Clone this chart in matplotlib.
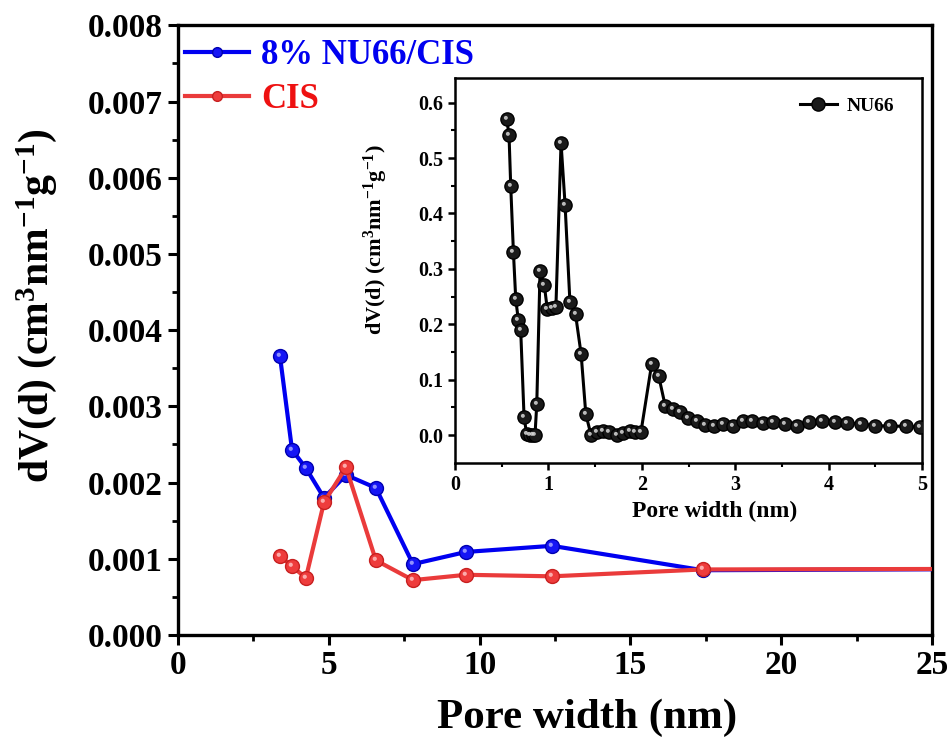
import matplotlib
matplotlib.use('Agg')
import matplotlib.pyplot as plt
from matplotlib.path import Path

plt.rcParams['font.family'] = ['Liberation Serif', 'DejaVu Serif']
plt.rcParams['font.weight'] = 'bold'
plt.rcParams['mathtext.fontset'] = 'custom'
plt.rcParams['mathtext.rm'] = 'Liberation Serif:bold'
plt.rcParams['mathtext.it'] = 'Liberation Serif:bold'
plt.rcParams['mathtext.bf'] = 'Liberation Serif:bold'

# main panel data
pore_main = [3.38, 3.78, 4.24, 4.84, 5.57, 6.56, 7.79, 9.55, 12.4, 17.4, 30.0]
dv_composite = [3.66e-3, 2.43e-3, 2.19e-3, 1.80e-3, 2.10e-3, 1.93e-3, 0.93e-3,
                1.09e-3, 1.17e-3, 0.85e-3, 0.87e-3]
dv_cis = [1.04e-3, 0.90e-3, 0.75e-3, 1.74e-3, 2.20e-3, 0.98e-3, 0.72e-3,
          0.79e-3, 0.77e-3, 0.86e-3, 0.87e-3]

# inset data (NU66)
pore_nu66 = [0.553, 0.578, 0.596, 0.625, 0.65, 0.678, 0.703, 0.739, 0.767, 0.80,
             0.83, 0.856, 0.875, 0.91, 0.956, 0.988, 1.035, 1.08, 1.135, 1.178,
             1.23, 1.29, 1.35, 1.40, 1.456, 1.517, 1.58, 1.65, 1.73, 1.80, 1.87,
             1.93, 1.99, 2.105, 2.18, 2.25, 2.33, 2.41, 2.49, 2.59, 2.68, 2.77,
             2.87, 2.98, 3.08, 3.18, 3.30, 3.40, 3.53, 3.66, 3.79, 3.93, 4.07,
             4.20, 4.35, 4.50, 4.66, 4.83, 4.98, 5.15]
dv_nu66 = [0.571, 0.541, 0.450, 0.330, 0.245, 0.207, 0.189, 0.032, 0.002, 0.0,
           0.0, 0.0, 0.056, 0.296, 0.270, 0.227, 0.230, 0.232, 0.527, 0.416,
           0.240, 0.218, 0.146, 0.038, 0.0, 0.005, 0.008, 0.006, 0.0, 0.003,
           0.007, 0.006, 0.005, 0.128, 0.107, 0.053, 0.047, 0.041, 0.031, 0.026,
           0.018, 0.016, 0.020, 0.016, 0.026, 0.026, 0.022, 0.023, 0.020, 0.016,
           0.023, 0.026, 0.024, 0.022, 0.020, 0.017, 0.016, 0.016, 0.014, 0.014]

# small off-centre dot used as the "shine" on the spherical markers
shine = Path.make_compound_path(
    Path([(-1, -1)], [Path.MOVETO]),
    Path([(1, 1)], [Path.MOVETO]),
    Path.circle((-0.25, 0.25), 0.3),
)


def sphere_plot(ax, x, y, color, face, edge, light, lw, ms, label, z):
    ax.plot(x, y, color=color, lw=lw, marker='o', ms=ms, mfc=face, mec=edge,
            mew=1, label=label, zorder=z)
    ax.plot(x, y, ls='none', marker=shine, ms=ms, mfc=light, mec='none',
            alpha=0.85, zorder=z + 0.1)


fig = plt.figure(figsize=(9.52, 7.44), dpi=100)
ax = fig.add_axes([0.187, 0.1465, 0.792, 0.8195])

sphere_plot(ax, pore_main, dv_composite, '#0000f0', '#1515f5', '#0000b0',
            '#a8a8ff', 3, 10, '8% NU66/CIS', 3)
sphere_plot(ax, pore_main, dv_cis, '#ea3b3b', '#ee3c3c', '#c82020',
            '#ffc0c0', 3, 10, 'CIS', 4)

ax.set_xlim(0, 25)
ax.set_ylim(0, 0.008)
ax.set_xticks([0, 5, 10, 15, 20, 25])
ax.set_xticks([2.5, 7.5, 12.5, 17.5, 22.5], minor=True)
ax.set_yticks([i * 0.001 for i in range(9)])
ax.set_yticks([0.0005 + i * 0.001 for i in range(8)], minor=True)
ax.set_yticklabels([f'{i * 0.001:.3f}' for i in range(9)])
ax.tick_params(which='major', direction='out', length=7, width=2.2, labelsize=24, pad=4)
ax.tick_params(which='minor', direction='out', length=4.5, width=2)
for s in ax.spines.values():
    s.set_linewidth(2.4)
ax.set_xlabel('Pore width (nm)', fontsize=31, fontweight='bold')
ax.xaxis.set_label_coords(0.542, -0.105)
ax.set_ylabel('dV(d) (cm$^{3}$nm$^{-1}$g$^{-1}$)', fontsize=30, fontweight='bold')
ax.yaxis.set_label_coords(-0.158, 0.54)

leg = ax.legend(loc='upper left', bbox_to_anchor=(0.009, 0.978), frameon=False,
                fontsize=25, handlelength=1.85, borderpad=0, borderaxespad=0,
                handletextpad=0.35, labelspacing=0.32, markerscale=0.7)
leg.get_texts()[0].set_color('#0000f0')
leg.get_texts()[1].set_color('#ee1111')

# inset
ins = fig.add_axes([0.478, 0.378, 0.4905, 0.5175])
sphere_plot(ins, pore_nu66, dv_nu66, 'black', '#1a1a1a', 'black', '#d8d8d8',
            2.2, 9.5, 'NU66', 3)
ins.set_xlim(0, 5)
ins.set_ylim(-0.05, 0.645)
ins.set_xticks([0, 1, 2, 3, 4, 5])
ins.set_xticks([0.5, 1.5, 2.5, 3.5, 4.5], minor=True)
ins.set_yticks([0.0, 0.1, 0.2, 0.3, 0.4, 0.5, 0.6])
ins.set_yticks([0.05, 0.15, 0.25, 0.35, 0.45, 0.55], minor=True)
ins.set_yticklabels(['0.0', '0.1', '0.2', '0.3', '0.4', '0.5', '0.6'])
ins.tick_params(which='major', direction='out', length=5, width=1.8, labelsize=14.5)
ins.tick_params(which='minor', direction='out', length=3, width=1.5)
for s in ins.spines.values():
    s.set_linewidth(1.8)
ins.set_xlabel('Pore width (nm)', fontsize=17, fontweight='bold')
ins.xaxis.set_label_coords(0.555, -0.1)
ins.set_ylabel('dV(d) (cm$^{3}$nm$^{-1}$g$^{-1}$)', fontsize=16, fontweight='bold')
ins.yaxis.set_label_coords(-0.14, 0.58)
ins.legend(loc='upper right', bbox_to_anchor=(0.94, 0.95), frameon=False,
           fontsize=14, handlelength=1.9, borderpad=0, borderaxespad=0,
           handletextpad=0.5)

fig.savefig('out.png', dpi=100)
